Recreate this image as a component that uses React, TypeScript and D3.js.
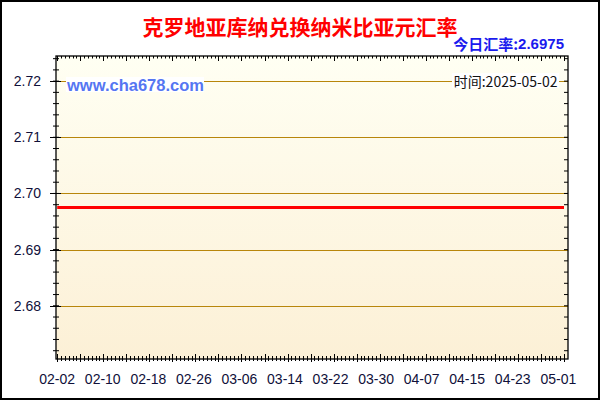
import * as d3 from 'd3';

const titleText = '克罗地亚库纳兑换纳米比亚元汇率';
const rateLabel = '今日汇率:';
const currentRate = '2.6975';
const siteText = 'www.cha678.com';
const timeText = '时间:2025-05-02';

const dates = ['2025-02-02', '2025-02-10', '2025-02-18', '2025-02-26', '2025-03-06', '2025-03-14',
  '2025-03-22', '2025-03-30', '2025-04-07', '2025-04-15', '2025-04-23', '2025-05-01', '2025-05-02'];
const rates = [2.6975, 2.6975, 2.6975, 2.6975, 2.6975, 2.6975,
  2.6975, 2.6975, 2.6975, 2.6975, 2.6975, 2.6975, 2.6975];
const xLabels = ['02-02', '02-10', '02-18', '02-26', '03-06', '03-14', '03-22', '03-30', '04-07', '04-15', '04-23', '05-01'];
const yTicks = [2.68, 2.69, 2.70, 2.71, 2.72];

const parse = d3.timeParse('%Y-%m-%d');
const data = dates.map((d, i) => ({ date: parse(d) as Date, value: rates[i] }));

const W = 600;
const H = 400;
const plot = { left: 56, right: 568, top: 56, bottom: 359 };
const numFont = '"Liberation Sans", Arial, sans-serif';
const cjkFont = '"Noto Sans CJK SC", "Liberation Sans", sans-serif';
const axisColor = '#10103a';

export default function App() {
  const x = d3.scaleTime()
    .domain(d3.extent(data, (d) => d.date) as [Date, Date])
    .range([57.2, 564]);

  const maxV = d3.max(rates) ?? 1;
  const minV = d3.min(rates) ?? 1;
  const y = d3.scaleLinear()
    .domain([minV * 0.99, maxV * 1.01])
    .range([plot.bottom, plot.top]);

  const line = d3.line<{ date: Date; value: number }>()
    .x((d) => x(d.date))
    .y((d) => y(d.value));

  // x ticks: 132 minor steps across the date range, every 6th a major one
  const [t0, t1] = x.domain();
  const xTicks = d3.range(133).map((i) => new Date(t0.getTime() + (t1.getTime() - t0.getTime()) * i / 132));

  const [ylo, yhi] = y.domain();
  const yMinor = d3.range(Math.ceil(ylo / 0.002 - 1e-9), Math.floor(yhi / 0.002 + 1e-9) + 1).map((k) => k * 0.002);

  return (
    <svg width={W} height={H} style={{ position: 'absolute', left: 0, top: 0, background: '#fff' }}>
      <defs>
        <linearGradient id="plot-bg" x1={0} y1={0} x2={0} y2={1}>
          <stop offset="0%" stopColor="#fffff3" />
          <stop offset="100%" stopColor="#fcf0d6" />
        </linearGradient>
      </defs>
      <rect x={1} y={1} width={W - 2} height={H - 2} fill="#fff" stroke="#000" strokeWidth={2} />

      <text x={300} y={26} textAnchor="middle" dominantBaseline="central"
        fontFamily={cjkFont} fontWeight="bold" fontSize={21} fill="#ff0000">{titleText}</text>
      <text x={564} y={43} textAnchor="end" dominantBaseline="central"
        fontFamily={cjkFont} fontWeight="bold" fontSize={15} fill="#1a1aee">
        {rateLabel}<tspan fontFamily={numFont}>{currentRate}</tspan>
      </text>

      <rect x={plot.left} y={plot.top} width={plot.right - plot.left} height={plot.bottom - plot.top}
        fill="url(#plot-bg)" />

      {yTicks.map((v) => (
        <line key={`g${v}`} x1={plot.left + 5} x2={plot.right} y1={Math.round(y(v)) + 0.5} y2={Math.round(y(v)) + 0.5}
          stroke="#b8860b" strokeWidth={1.2} />
      ))}

      <rect x={plot.left} y={plot.top} width={plot.right - plot.left} height={plot.bottom - plot.top}
        fill="none" stroke="#000" strokeWidth={1.3} />

      {yMinor.map((v) => (
        <g key={`ym${v}`}>
          <line x1={plot.left - 3} x2={plot.left + 3} y1={y(v)} y2={y(v)} stroke="#000" />
          <line x1={plot.right - 4} x2={plot.right} y1={y(v)} y2={y(v)} stroke="#000" />
        </g>
      ))}
      {yTicks.map((v) => (
        <g key={`yt${v}`}>
          <line x1={plot.left - 6} x2={plot.left + 5} y1={Math.round(y(v)) + 0.5} y2={Math.round(y(v)) + 0.5} stroke="#000" />
          <text x={41} y={y(v)} textAnchor="end" dominantBaseline="central"
            fontFamily={numFont} fontSize={14} fill={axisColor}>{v.toFixed(2)}</text>
        </g>
      ))}

      {xTicks.map((t, i) => {
        const major = i % 6 === 0;
        const px = Math.round(x(t)) + 0.5;
        return (
          <g key={`xt${i}`}>
            <line x1={px} x2={px} y1={plot.top} y2={plot.top + (major ? 5 : 2.5)} stroke="#000" />
            <line x1={px} x2={px} y1={plot.bottom - (major ? 5 : 3)} y2={plot.bottom + (major ? 3 : 2)} stroke="#000" />
          </g>
        );
      })}
      {xLabels.map((l) => (
        <text key={l} x={x(parse(`2025-${l}`) as Date)} y={379} textAnchor="middle" dominantBaseline="central"
          fontFamily={numFont} fontSize={14} fill={axisColor}>{l}</text>
      ))}

      <path d={line(data) ?? ''} fill="none" stroke="#ff0000" strokeWidth={3} />

      <rect x={66} y={77} width={138} height={15} fill="#fff" />
      <text x={67} y={84.5} dominantBaseline="central" fontFamily={numFont} fontWeight="bold"
        fontSize={16.5} fill="#5576f2">{siteText}</text>

      <rect x={452} y={73} width={107} height={15} fill="#fff" />
      <text x={557.5} y={80.5} textAnchor="end" dominantBaseline="central"
        fontFamily={cjkFont} fontSize={14} fill="#111">{timeText}</text>
    </svg>
  );
}
